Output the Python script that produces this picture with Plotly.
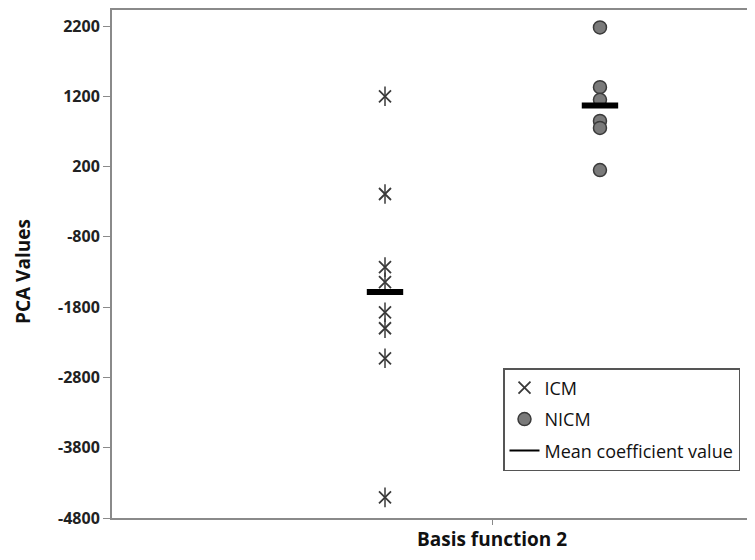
import numpy as np
import plotly.graph_objects as go

groups = ["ICM", "NICM"]
group_x = [1, 2]
icm_values = [1200, -190, -1230, -1445, -1873, -2100, -2528, -4507]
nicm_values = [2180, 1330, 1150, 850, 750, 150]
y_ticks = [-4800, -3800, -2800, -1800, -800, 200, 1200, 2200]

icm_mean = float(np.mean(icm_values))
nicm_mean = float(np.mean(nicm_values))

fig = go.Figure()

# ICM: X with vertical bar (asterisk-like)
fig.add_trace(go.Scatter(
    x=[group_x[0]] * len(icm_values), y=icm_values, mode="markers", name=groups[0],
    legendgroup="a",
    marker=dict(symbol="x-thin-open", size=12, line=dict(color="#3a3a3a", width=1.8), color="#3a3a3a"),
))
fig.add_trace(go.Scatter(
    x=[group_x[0]] * len(icm_values), y=icm_values, mode="markers", showlegend=False,
    marker=dict(symbol="line-ns-open", size=14, line=dict(color="#3a3a3a", width=1.5), color="#3a3a3a"),
))
# NICM circles
fig.add_trace(go.Scatter(
    x=[group_x[1]] * len(nicm_values), y=nicm_values, mode="markers", name=groups[1],
    legendgroup="b",
    marker=dict(symbol="circle", size=13, color="#7a7a7a", line=dict(color="#3a3a3a", width=1.5)),
))
# Mean bars
fig.add_trace(go.Scatter(
    x=group_x, y=[icm_mean, nicm_mean], mode="markers", showlegend=False,
    marker=dict(symbol="line-ew-open", size=26, line=dict(color="black", width=6), color="black"),
))
# Legend entry for mean
fig.add_trace(go.Scatter(
    x=[None], y=[None], mode="lines", name="Mean coefficient value", legendgroup="c",
    line=dict(color="black", width=2),
))

# The page body has an 8px margin; size the figure to fit the 755x560 window.
fig.update_layout(
    width=739, height=544,
    margin=dict(l=104, r=0, t=2, b=34),
    paper_bgcolor="white", plot_bgcolor="white",
    showlegend=True,
    legend=dict(
        x=(503 - 112) / 635, y=(518 - 368) / 508, xanchor="left", yanchor="top",
        bordercolor="#555555", borderwidth=1.5, bgcolor="white",
        font=dict(family="Open Sans", size=18, color="#111111"),
        tracegroupgap=5,
    ),
    font=dict(family="Open Sans", color="#222222"),
)

fig.update_xaxes(
    range=[-0.27, 2.684], showgrid=False, zeroline=False,
    showline=True, linecolor="#8a8a8a", linewidth=2, mirror=True,
    tickvals=[1.5], ticktext=[""], ticks="outside", ticklen=5, tickcolor="#8a8a8a",
)
fig.update_yaxes(
    range=[-4800, 2428], showgrid=False, zeroline=False,
    showline=True, linecolor="#8a8a8a", linewidth=2,
    tickvals=y_ticks, ticktext=[str(v) for v in y_ticks],
    ticks="outside", ticklen=7, tickcolor="#8a8a8a",
    tickfont=dict(family="Open Sans", size=16, color="#222222", weight="bold"),
)

fig.add_annotation(
    text="<b>PCA Values</b>", xref="paper", yref="paper",
    x=0, xshift=-(112 - 23), y=(518 - 272) / 508, textangle=-90,
    xanchor="center", yanchor="middle",
    showarrow=False, font=dict(family="Open Sans", size=19, color="#111111"),
)
fig.add_annotation(
    text="<b>Basis function 2</b>", xref="paper", yref="paper",
    x=(492 - 112) / 635, y=0, yshift=-21, xanchor="center", yanchor="middle",
    showarrow=False, font=dict(family="Open Sans", size=19, color="#111111"),
)

fig.write_html("out.html")
